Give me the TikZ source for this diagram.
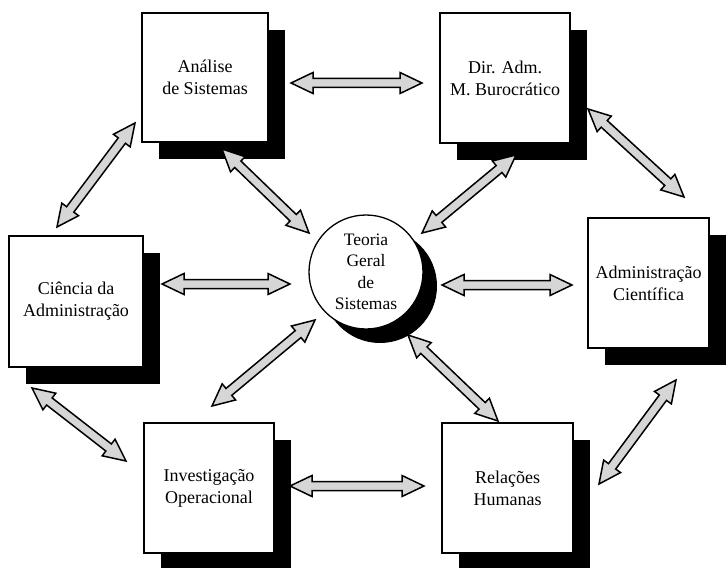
\documentclass[tikz,border=0pt]{standalone}
\usepackage{fontspec}
\setmainfont{Liberation Serif}
\usetikzlibrary{calc,shadows}

\tikzset{
  sysbox/.style={draw, line width=1.3pt, fill=white, align=center,
    inner sep=2pt, font=\fontsize{18}{22}\selectfont,
    drop shadow={shadow xshift=17pt, shadow yshift=-17pt, fill=black, opacity=1}},
  hub/.style={circle, draw, line width=1.3pt, fill=white, align=center,
    minimum size=114pt, inner sep=0pt, font=\fontsize{17.5}{21.5}\selectfont,
    drop shadow={shadow xshift=14pt, shadow yshift=-14pt, fill=black, opacity=1}},
  fatarrowline/.style={draw=black, line width=1.5pt, fill=black!16, line join=miter}
}

% broad hollow double-headed arrow between two named points
\newcommand\fatarrow[2]{%
  \coordinate (faP) at ($(#1)!22pt!(#2)$);
  \coordinate (faQ) at ($(#2)!22pt!(#1)$);
  \draw[fatarrowline] (#1)
    -- ($(faP)!10.5pt!-90:(#2)$) -- ($(faP)!4.5pt!-90:(#2)$)
    -- ($(faQ)!4.5pt!90:(#1)$) -- ($(faQ)!10.5pt!90:(#1)$)
    -- (#2)
    -- ($(faQ)!10.5pt!-90:(#1)$) -- ($(faQ)!4.5pt!-90:(#1)$)
    -- ($(faP)!4.5pt!90:(#2)$) -- ($(faP)!10.5pt!90:(#2)$)
    -- cycle;
}

\begin{document}
\begin{tikzpicture}[x=1pt,y=-1pt]
\useasboundingbox (0,0) rectangle (727,567);

% schools of thought around the central theory
\node[sysbox, minimum width=126pt, minimum height=129pt] (A) at (205,77.5) {Análise\\de Sistemas};
\node[sysbox, minimum width=130pt, minimum height=130pt] (D) at (505,78) {Dir. Adm.\\M. Burocrático};
\node[sysbox, minimum width=134pt, minimum height=131pt] (C) at (76,301.5) {Ciência da\\Administração};
\node[sysbox, minimum width=121pt, minimum height=130pt] (S) at (648.5,283) {Administração\\Científica};
\node[sysbox, minimum width=130pt, minimum height=130pt] (I) at (209,488) {Investigação\\Operacional};
\node[sysbox, minimum width=131pt, minimum height=130pt] (R) at (507.5,488) {Relações\\Humanas};
\node[hub] (T) at (366,272) {Teoria\\Geral\\de\\Sistemas};

% arrow end points
\coordinate (AD1) at (291,83);  \coordinate (AD2) at (422,83);
\coordinate (AT1) at (222,149); \coordinate (AT2) at (309,233);
\coordinate (DT1) at (516,155); \coordinate (DT2) at (422,233);
\coordinate (DS1) at (588,109); \coordinate (DS2) at (684,197);
\coordinate (AC1) at (135,123); \coordinate (AC2) at (57,227);
\coordinate (CT1) at (162,284); \coordinate (CT2) at (290,284);
\coordinate (TS1) at (442,285); \coordinate (TS2) at (572,285);
\coordinate (CI1) at (32,388);  \coordinate (CI2) at (126,461);
\coordinate (IT1) at (212,406); \coordinate (IT2) at (315,320);
\coordinate (TR1) at (408,335); \coordinate (TR2) at (498,421);
\coordinate (IR1) at (290,486); \coordinate (IR2) at (424,486);
\coordinate (SR1) at (676,380); \coordinate (SR2) at (599,484);

\fatarrow{AD1}{AD2}
\fatarrow{AT1}{AT2}
\fatarrow{DT1}{DT2}
\fatarrow{DS1}{DS2}
\fatarrow{AC1}{AC2}
\fatarrow{CT1}{CT2}
\fatarrow{TS1}{TS2}
\fatarrow{CI1}{CI2}
\fatarrow{IT1}{IT2}
\fatarrow{TR1}{TR2}
\fatarrow{IR1}{IR2}
\fatarrow{SR1}{SR2}
\end{tikzpicture}
\end{document}
